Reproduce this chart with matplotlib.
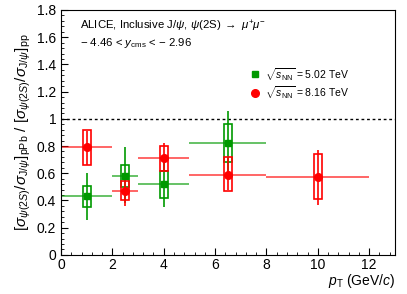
import numpy as np
import matplotlib
matplotlib.use("Agg")
import matplotlib.pyplot as plt
from matplotlib.patches import Rectangle
from matplotlib.ticker import MultipleLocator

plt.rcParams['font.family'] = ['Liberation Sans', 'DejaVu Sans']
plt.rcParams['mathtext.fontset'] = 'custom'
plt.rcParams['mathtext.rm'] = 'Liberation Sans'
plt.rcParams['mathtext.it'] = 'Liberation Sans:italic'

# sqrt(s_NN) = 5.02 TeV
x502 = [1.0, 2.5, 4.0, 6.5]
xlo502 = [0, 2, 3, 5]
xhi502 = [2, 3, 5, 8]
y502 = [0.43, 0.58, 0.52, 0.82]
stat_lo502 = [0.26, 0.38, 0.35, 0.58]
stat_hi502 = [0.60, 0.79, 0.70, 1.06]
sys_lo502 = [0.35, 0.50, 0.42, 0.68]
sys_hi502 = [0.51, 0.66, 0.62, 0.96]

# sqrt(s_NN) = 8.16 TeV
x816 = [1.0, 2.5, 4.0, 6.5, 10.0]
xlo816 = [0, 2, 3, 5, 8]
xhi816 = [2, 3, 5, 8, 12]
y816 = [0.79, 0.47, 0.71, 0.59, 0.57]
stat_lo816 = [0.66, 0.36, 0.62, 0.48, 0.37]
stat_hi816 = [0.91, 0.56, 0.82, 0.71, 0.77]
sys_lo816 = [0.66, 0.40, 0.62, 0.47, 0.41]
sys_hi816 = [0.92, 0.54, 0.80, 0.72, 0.74]

green = '#009900'
red = '#ff0000'

fig = plt.figure(figsize=(4.07, 2.94), dpi=100)
ax = fig.add_axes([0.150, 0.133, 0.820, 0.833])

def draw(x, xlo, xhi, y, slo, shi, ylo, yhi, c, marker, ms):
    x = np.array(x); y = np.array(y)
    ax.hlines(y, xlo, xhi, color=c, lw=1.3, alpha=0.65, zorder=2)
    ax.vlines(x, slo, shi, color=c, lw=1.2, zorder=3)
    for xi, a, b in zip(x, ylo, yhi):
        ax.add_patch(Rectangle((xi - 0.15, a), 0.3, b - a, fill=False,
                               edgecolor=c, lw=1.2, zorder=3))
    ax.plot(x, y, ls='none', marker=marker, color=c, ms=ms, zorder=4)

draw(x502, xlo502, xhi502, y502, stat_lo502, stat_hi502, sys_lo502, sys_hi502, green, 's', 5)
draw(x816, xlo816, xhi816, y816, stat_lo816, stat_hi816, sys_lo816, sys_hi816, red, 'o', 5.5)

ax.axhline(1.0, color='black', ls=(0, (2, 2)), lw=1.0, zorder=1)

ax.set_xlim(0, 13)
ax.set_ylim(0, 1.8)
ax.xaxis.set_minor_locator(MultipleLocator(0.4))
ax.yaxis.set_minor_locator(MultipleLocator(0.04))
ax.tick_params(which='both', direction='in', labelsize=10, top=False, right=False)
ax.tick_params(which='major', length=5)
ax.tick_params(which='minor', length=2.5)
ax.tick_params(axis='x', pad=2)
ax.set_yticks(np.arange(0, 1.81, 0.2))
ax.set_yticklabels(['0', '0.2', '0.4', '0.6', '0.8', '1', '1.2', '1.4', '1.6', '1.8'])
ax.set_xticks(np.arange(0, 13, 2))
ax.set_xticklabels(['0', '2', '4', '6', '8', '10', '12'])

ax.set_xlabel(r'$p_{\mathrm{T}}$ (GeV/$c$)', fontsize=10, loc='right', labelpad=0)
ax.set_ylabel(r'$[\sigma_{\psi(2S)}/\sigma_{\mathrm{J}/\psi}]_{\mathrm{pPb}}$ / $[\sigma_{\psi(2S)}/\sigma_{\mathrm{J}/\psi}]_{\mathrm{pp}}$',
              fontsize=11, labelpad=3)

ax.text(0.057, 0.935, r'ALICE, Inclusive J/$\psi$, $\psi$(2S) $\rightarrow$ $\mu^{+}\mu^{-}$',
        transform=ax.transAxes, fontsize=8.2, va='center')
ax.text(0.057, 0.866, r'$-$ 4.46 < $y_{\mathrm{cms}}$ < $-$ 2.96',
        transform=ax.transAxes, fontsize=8.2, va='center')

ax.plot([0.58], [0.737], transform=ax.transAxes, marker='s', color=green, ms=5, ls='none', clip_on=False)
ax.plot([0.58], [0.662], transform=ax.transAxes, marker='o', color=red, ms=5.5, ls='none', clip_on=False)
ax.text(0.612, 0.737, r'$\sqrt{s_{\mathrm{NN}}}$ = 5.02 TeV', transform=ax.transAxes, fontsize=7.5, va='center')
ax.text(0.612, 0.662, r'$\sqrt{s_{\mathrm{NN}}}$ = 8.16 TeV', transform=ax.transAxes, fontsize=7.5, va='center')

fig.savefig('out.png', dpi=100)
